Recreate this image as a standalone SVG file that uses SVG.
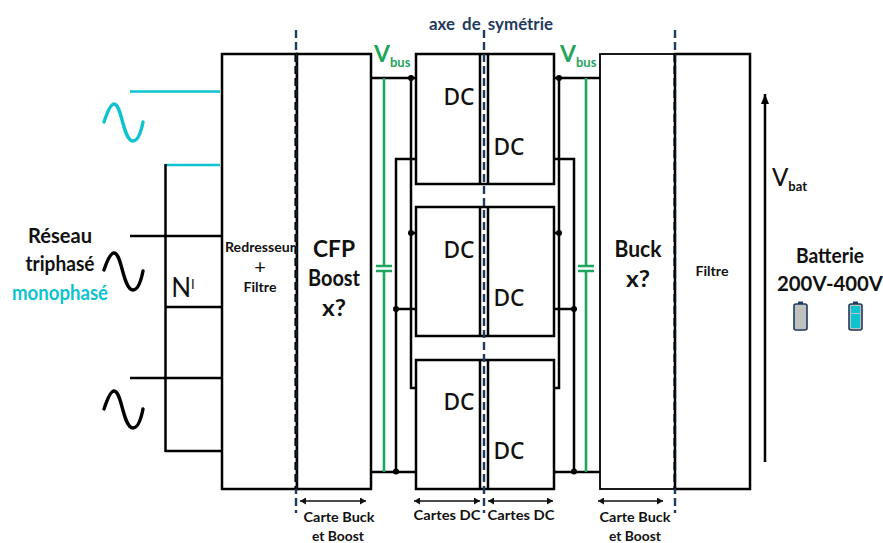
<svg xmlns="http://www.w3.org/2000/svg" width="883" height="543" viewBox="0 0 883 543">
<style>
text{font-family:"Lato","Noto Sans",sans-serif;fill:#111;font-weight:700;text-anchor:middle}
.blk{fill:none;stroke:#000;stroke-width:2.5}
.w{fill:#fff;stroke:#000;stroke-width:2.5}
.g{fill:none;stroke:#1fa55c;stroke-width:2.6}
.c{fill:none;stroke:#0cc3ce;stroke-width:2.5}
.axis{fill:none;stroke:#1f3a5f;stroke-width:2.4;stroke-dasharray:8 4}
.edge{fill:none;stroke:#000;stroke-width:2;stroke-dasharray:8 4}
.sine{fill:none;stroke-width:3.4;stroke-linecap:round}
.dim{fill:none;stroke:#111;stroke-width:1.4;marker-start:url(#as);marker-end:url(#a)}
.dc{font-family:"Noto Sans",sans-serif;font-size:24px;font-weight:500}
.sm{font-size:14px}
.vg{fill:#1fa55c}
.batt{fill:#c0c2bf;stroke:#1f3a5f;stroke-width:1.6}
</style>
<defs>
<marker id="a" markerWidth="7" markerHeight="7" refX="6" refY="3.500" orient="auto" markerUnits="userSpaceOnUse"><path d="M0 0L6 3.500L0 7Z" fill="#111"/></marker>
<marker id="as" markerWidth="7" markerHeight="7" refX="0" refY="3.500" orient="auto" markerUnits="userSpaceOnUse"><path d="M6 0L0 3.500L6 7Z" fill="#111"/></marker>
<marker id="big" markerWidth="10" markerHeight="12" refX="10" refY="4" orient="auto" markerUnits="userSpaceOnUse"><path d="M0 0L10 4L0 8Z" fill="#000"/></marker>
</defs>
<g id="connectors">
<path class="blk" d="M371 78H416M371 472H416M554 78H600M554 472H600"/>
<path class="blk" d="M411 78V388H416M396 472V159H416M411 233H416M396 309H416"/>
<path class="blk" d="M559 78V388H554M574 472V159H554M559 233H554M574 309H554"/>
<path class="g" d="M384 78V266M384 271V472M586 78V266M586 271V472M376 266H392M376 271H392M578 266H594M578 271H594"/>
<g fill="#000"><circle cx="411" cy="78" r="3"/><circle cx="411" cy="233" r="3"/><circle cx="396" cy="309" r="3"/><circle cx="396" cy="471.500" r="3"/><circle cx="559" cy="78" r="3"/><circle cx="559" cy="233" r="3"/><circle cx="574" cy="309" r="3"/><circle cx="574" cy="471.500" r="3"/></g>
<path class="c" d="M130 91.500H220M165 165H220"/>
<path class="blk" d="M165.500 164V452M130 236H221M166 307H221M130 378H221M165 451H221"/>
<path d="M765 462V94" fill="none" stroke="#000" stroke-width="2.5" marker-end="url(#big)"/>
<path class="dim" d="M300 501H366"/><path class="dim" d="M414 501H480"/><path class="dim" d="M488 501H553"/><path class="dim" d="M598 501H663"/>
</g>
<g id="source-1"><path class="sine" stroke="#0cc3ce" d="M104 122C108 110 111 104 114 104C122 104 123 141 133 141C138 141 141 132 143 122"/></g>
<g id="source-2"><path class="sine" stroke="#000" d="M104 270C108 258 111 253 114 253C122 253 123 290 133 290C138 290 141 281 143 271"/></g>
<g id="source-3"><path class="sine" stroke="#000" d="M104 409C108 397 111 391 114 391C122 391 123 428 133 428C138 428 141 419 143 409"/></g>
<g id="reseau"><text x="60" y="243" font-size="20" textLength="64" lengthAdjust="spacingAndGlyphs">Réseau</text><text x="60" y="271" font-size="20" textLength="69" lengthAdjust="spacingAndGlyphs">triphasé</text><text x="60" y="300" font-size="20" textLength="96" lengthAdjust="spacingAndGlyphs" style="fill:#0cc3ce">monophasé</text></g>
<g id="neutral"><text x="183" y="297" font-size="26" style="font-weight:400">N<tspan font-size="13" dy="-8">I</tspan></text></g>
<g id="redresseur"><rect class="w" x="222" y="54" width="75" height="435"/><text x="260" y="252" class="sm" textLength="70" lengthAdjust="spacingAndGlyphs">Redresseur</text><text x="260" y="274" font-size="20" style="font-weight:400">+</text><text x="260" y="292" class="sm" textLength="33" lengthAdjust="spacingAndGlyphs">Filtre</text></g>
<g id="cfp"><rect class="w" x="297" y="54" width="74" height="435"/><text x="334" y="257" font-size="22" textLength="42" lengthAdjust="spacingAndGlyphs">CFP</text><text x="334" y="286" font-size="22" textLength="52" lengthAdjust="spacingAndGlyphs">Boost</text><text x="334" y="316" font-size="22" textLength="24" lengthAdjust="spacingAndGlyphs">x?</text></g>
<g id="dc-1"><rect class="w" x="416" y="54" width="138" height="130"/><path class="blk" d="M480 54V184M488 54V184"/><text x="459" y="105" class="dc" textLength="31" lengthAdjust="spacingAndGlyphs">DC</text><text x="509" y="155" class="dc" textLength="31" lengthAdjust="spacingAndGlyphs">DC</text></g>
<g id="dc-2"><rect class="w" x="416" y="207" width="138" height="129"/><path class="blk" d="M480 207V336M488 207V336"/><text x="459" y="258" class="dc" textLength="31" lengthAdjust="spacingAndGlyphs">DC</text><text x="509" y="306" class="dc" textLength="31" lengthAdjust="spacingAndGlyphs">DC</text></g>
<g id="dc-3"><rect class="w" x="416" y="360" width="138" height="129"/><path class="blk" d="M480 360V489M488 360V489"/><text x="459" y="410" class="dc" textLength="31" lengthAdjust="spacingAndGlyphs">DC</text><text x="509" y="459" class="dc" textLength="31" lengthAdjust="spacingAndGlyphs">DC</text></g>
<g id="buck"><rect x="600" y="54" width="75" height="435" fill="#fff" stroke="#000" stroke-width="1.8"/><text x="638" y="257" font-size="22" textLength="47" lengthAdjust="spacingAndGlyphs">Buck</text><text x="638" y="287" font-size="22" textLength="24" lengthAdjust="spacingAndGlyphs">x?</text></g>
<g id="filtre"><rect class="w" x="675" y="54" width="75" height="435"/><text x="712" y="276" class="sm" textLength="33" lengthAdjust="spacingAndGlyphs">Filtre</text></g>
<g id="axes"><path class="axis" d="M296 30V513M484 30V513M675 30V513"/><path class="edge" d="M295.500 54V489M674.500 54V489"/></g>
<g id="labels">
<text x="491" y="30" font-size="17" textLength="124" lengthAdjust="spacingAndGlyphs" style="fill:#1f3a5f;word-spacing:3px">axe de symétrie</text>
<text x="374" y="62" font-size="23" class="vg" style="text-anchor:start">V<tspan font-size="13" dy="5">bus</tspan></text>
<text x="560" y="62" font-size="23" class="vg" style="text-anchor:start">V<tspan font-size="13" dy="5">bus</tspan></text>
<text x="772" y="186" font-size="24" style="text-anchor:start;font-weight:500">V<tspan font-size="13" dy="5" font-weight="700">bat</tspan></text>
<text x="830" y="263" font-size="20" textLength="68" lengthAdjust="spacingAndGlyphs">Batterie</text>
<text x="830" y="291" font-size="20" textLength="106" lengthAdjust="spacingAndGlyphs">200V-400V</text>
<text x="339" y="522" font-size="14" textLength="71" lengthAdjust="spacingAndGlyphs">Carte Buck</text><text x="338" y="541" font-size="14" textLength="52" lengthAdjust="spacingAndGlyphs">et Boost</text>
<text x="447" y="520" font-size="14" textLength="67" lengthAdjust="spacingAndGlyphs">Cartes DC</text><text x="521" y="520" font-size="14" textLength="67" lengthAdjust="spacingAndGlyphs">Cartes DC</text>
<text x="635" y="522" font-size="14" textLength="71" lengthAdjust="spacingAndGlyphs">Carte Buck</text><text x="635" y="541" font-size="14" textLength="52" lengthAdjust="spacingAndGlyphs">et Boost</text>
</g>
<g id="battery-empty"><rect x="794" y="304" width="13" height="26" rx="2" class="batt"/><rect x="798" y="301.500" width="5" height="2.500" fill="#1f3a5f"/></g>
<g id="battery-full"><rect x="849" y="304" width="13" height="26" rx="2" class="batt"/><rect x="853" y="301.500" width="5" height="2.500" fill="#1f3a5f"/><rect x="851" y="306" width="9" height="22" fill="#0cc3ce"/><path d="M851 313.500H860" stroke="#c0c2bf" stroke-width="1"/></g>
</svg>
